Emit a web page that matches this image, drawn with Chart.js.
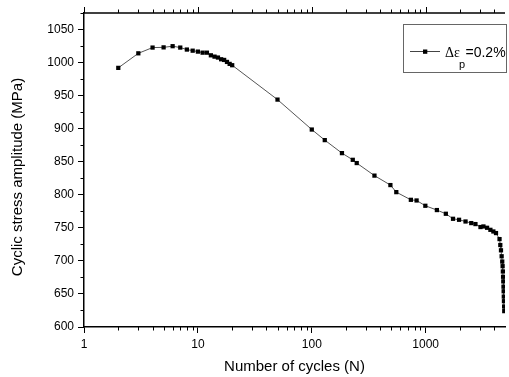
<!DOCTYPE html>
<html>
<head>
<meta charset="utf-8">
<script src="https://cdn.jsdelivr.net/npm/chart.js@4/dist/chart.umd.min.js"></script>
<style>
  html, body { margin: 0; padding: 0; background: #fff; }
  #wrap { width: 509px; height: 377px; position: relative; }
</style>
</head>
<body>
<div id="wrap"><canvas id="c" width="509" height="377"></canvas></div>
<script>
// ---- data ----
const cycles = [2, 3, 4, 5, 6, 7, 8, 9, 10, 11, 12, 13, 14, 15, 16, 17, 18, 19, 20,
  50, 100, 130, 184, 229, 248, 355, 490, 552, 741, 832, 993, 1254, 1503, 1738, 1963,
  2238, 2512, 2735, 3027, 3214, 3459, 3700, 3928, 4143, 4450, 4520, 4582, 4645, 4700,
  4736, 4760, 4780, 4800, 4820, 4835, 4850, 4865, 4880, 4895];
const stress = [992, 1014, 1022.7, 1023, 1024.8, 1022.7, 1019.7, 1018, 1016.6, 1015, 1015, 1011, 1009, 1007.6, 1005, 1004, 1001, 998, 996,
  944, 898.7, 882.7, 863, 852.9, 848, 829, 814.7, 804, 792.4, 791.4, 783.4, 776.9, 771.3, 763.7, 762.2,
  759.6, 757.2, 755.7, 751.2, 752.1, 750.1, 747, 744.5, 742.1, 733, 724, 716, 707, 699,
  692, 684, 676, 669, 661, 654, 646, 639, 631, 624];
const xTickValues = [1, 10, 100, 1000];
const yTickValues = [600, 650, 700, 750, 800, 850, 900, 950, 1000, 1050];
const seriesLabel = { base: 'Δε', sub: 'p', rest: '=0.2%' };
const xTitle = 'Number of cycles (N)';
const yTitle = 'Cyclic stress amplitude (MPa)';

const FONT = '"Liberation Sans", Arial, sans-serif';
const points = cycles.map((n, i) => ({ x: n, y: stress[i] }));

const decor = {
  id: 'decor',
  afterDraw(chart) {
    const { ctx, chartArea: a, scales: { x, y } } = chart;
    ctx.save();
    ctx.strokeStyle = '#000';
    // top axis line
    ctx.lineWidth = 1.5;
    ctx.beginPath(); ctx.moveTo(a.left, a.top); ctx.lineTo(a.right, a.top); ctx.stroke();
    ctx.lineWidth = 1;
    // x ticks (top: major+minor, bottom: minor)
    xTickValues.forEach(d => {
      for (let m = 1; m <= 9; m++) {
        const v = d * m;
        if (v > x.max) break;
        const px = Math.round(x.getPixelForValue(v)) + 0.5;
        const len = m === 1 ? 6 : 3.5;
        ctx.beginPath(); ctx.moveTo(px, a.top); ctx.lineTo(px, a.top - len); ctx.stroke();
        if (m !== 1) {
          ctx.beginPath(); ctx.moveTo(px, a.bottom); ctx.lineTo(px, a.bottom + 3.5); ctx.stroke();
        }
      }
    });
    // y minor ticks
    for (let i = 0; i < yTickValues.length; i++) {
      const v = yTickValues[i] + 25;
      if (v > y.max) break;
      const py = Math.round(y.getPixelForValue(v)) + 0.5;
      ctx.beginPath(); ctx.moveTo(a.left - 3.5, py); ctx.lineTo(a.left, py); ctx.stroke();
    }
    // y title
    ctx.fillStyle = '#000';
    ctx.font = '15px ' + FONT;
    ctx.textAlign = 'center';
    ctx.textBaseline = 'middle';
    ctx.translate(18, 177);
    ctx.rotate(-Math.PI / 2);
    ctx.fillText(yTitle, 0, 0);
    ctx.restore();

    // legend
    ctx.save();
    ctx.strokeStyle = '#666';
    ctx.lineWidth = 1;
    ctx.strokeRect(403.5, 24.5, 103, 48);
    ctx.strokeStyle = '#444';
    ctx.beginPath(); ctx.moveTo(410, 51.5); ctx.lineTo(440, 51.5); ctx.stroke();
    ctx.fillStyle = '#000';
    ctx.fillRect(423, 49.5, 4.3, 4.3);
    ctx.textBaseline = 'alphabetic';
    ctx.textAlign = 'left';
    ctx.font = '14px "Liberation Serif", "Times New Roman", serif';
    ctx.fillText(seriesLabel.base, 445, 57);
    let w = ctx.measureText(seriesLabel.base).width - 1;
    ctx.font = '11px ' + FONT;
    ctx.fillText(seriesLabel.sub, 445 + w, 68);
    w += ctx.measureText(seriesLabel.sub).width + 0.5;
    ctx.font = '14px ' + FONT;
    ctx.fillText(seriesLabel.rest, 445 + w, 57);
    ctx.restore();
  }
};

new Chart(document.getElementById('c'), {
  type: 'scatter',
  data: {
    datasets: [{
      label: seriesLabel.base + seriesLabel.sub + seriesLabel.rest,
      data: points,
      showLine: true,
      borderColor: '#555',
      borderWidth: 1,
      pointStyle: 'rect',
      pointRadius: 3,
      pointBorderWidth: 0,
      pointBackgroundColor: '#000',
      pointBorderColor: '#000',
      tension: 0
    }]
  },
  options: {
    responsive: false,
    animation: false,
    devicePixelRatio: 1,
    layout: { padding: { top: 13, right: 0, left: 0, bottom: 0 } },
    plugins: { legend: { display: false }, tooltip: { enabled: false } },
    scales: {
      x: {
        type: 'logarithmic',
        min: 1,
        max: 4970,
        afterBuildTicks: s => { s.ticks = xTickValues.map(v => ({ value: v })); },
        afterFit: s => { s.height = 50; },
        ticks: {
          color: '#000',
          font: { family: FONT, size: 12 },
          padding: 4,
          maxRotation: 0,
          autoSkip: false,
          callback: v => String(v)
        },
        grid: { display: true, drawOnChartArea: false, drawTicks: true, tickLength: 6, color: '#000', lineWidth: 1 },
        border: { display: true, color: '#000', width: 1.5 },
        title: { display: true, text: xTitle, color: '#000', font: { family: FONT, size: 15 }, padding: { top: 0, bottom: 1 } }
      },
      y: {
        type: 'linear',
        min: 600,
        max: 1075,
        afterBuildTicks: s => { s.ticks = yTickValues.map(v => ({ value: v })); },
        afterFit: s => { s.width = 84; },
        ticks: {
          color: '#000',
          font: { family: FONT, size: 12 },
          padding: 4,
          autoSkip: false,
          callback: v => String(v)
        },
        grid: { display: true, drawOnChartArea: false, drawTicks: true, tickLength: 6, color: '#000', lineWidth: 1 },
        border: { display: true, color: '#000', width: 1.5 }
      }
    }
  },
  plugins: [decor]
});
</script>
</body>
</html>
